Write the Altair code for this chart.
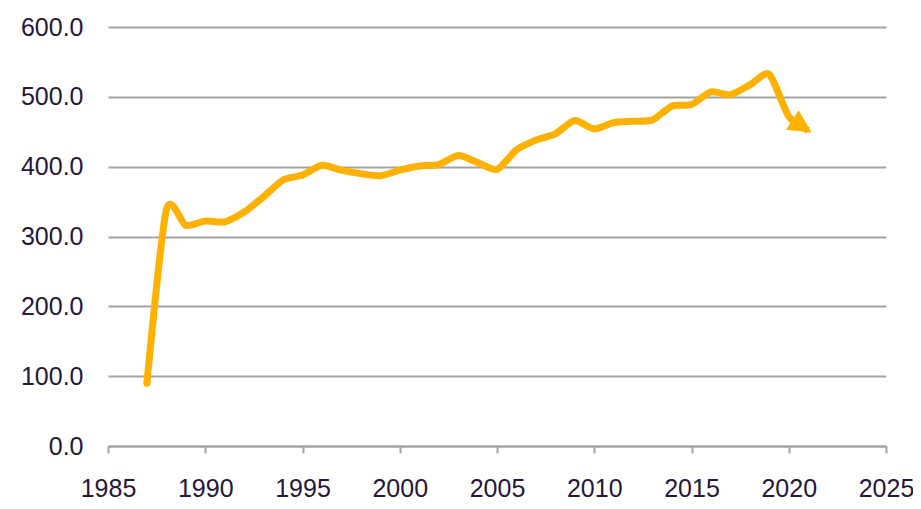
import altair as alt
import pandas as pd

years = [1987, 1988, 1989, 1990, 1991, 1992, 1993, 1994, 1995, 1996,
         1997, 1998, 1999, 2000, 2001, 2002, 2003, 2004, 2005, 2006,
         2007, 2008, 2009, 2010, 2011, 2012, 2013, 2014, 2015, 2016,
         2017, 2018, 2019, 2020, 2021]
values = [90, 338, 316, 322, 321, 335, 357, 381, 388, 402,
          395, 390, 387, 395, 401, 403, 416, 406, 396, 424,
          438, 447, 466, 454, 463, 465, 467, 487, 489, 507,
          503, 517, 532, 472, 452]
x_ticks = [1985, 1990, 1995, 2000, 2005, 2010, 2015, 2020, 2025]
y_ticks = [0, 100, 200, 300, 400, 500, 600]

df = pd.DataFrame({"year": years, "value": values})

LINE = "#FFB100"
TEXT = "#26163A"
GRID = "#A3A3A3"
FONT = "Liberation Sans"

x = alt.X("year:Q",
          scale=alt.Scale(domain=[1985, 2025], nice=False, zero=False),
          axis=alt.Axis(values=x_ticks, format="d", title=None, grid=False,
                        domainColor=GRID, domainWidth=2, tickColor=GRID,
                        tickWidth=2, tickSize=7, labelFontSize=25,
                        labelFont=FONT, labelColor=TEXT, labelPadding=23,
                        labelFlush=False))
y = alt.Y("value:Q",
          scale=alt.Scale(domain=[0, 600], nice=False),
          axis=alt.Axis(values=y_ticks, format=".1f", title=None,
                        grid=True, gridColor=GRID, gridWidth=2,
                        domain=False, ticks=False, labelFontSize=25,
                        labelFont=FONT, labelColor=TEXT, labelPadding=25))

line = alt.Chart(df).mark_line(
    color=LINE, strokeWidth=7, interpolate="cardinal", tension=0.3,
    strokeCap="butt", strokeJoin="round"
).encode(x=x, y=y)

start_cap = alt.Chart(df).transform_filter(
    alt.datum.year == years[0]
).mark_point(
    shape="circle", filled=True, fill=LINE, opacity=1, size=49, strokeWidth=0
).encode(x=x, y=y)

arrow = alt.Chart(df).transform_filter(
    alt.datum.year == years[-1]
).mark_point(
    shape="M0.4,0 L-1.9,-1.15 L-1.9,1.15 Z", filled=True, fill=LINE,
    strokeWidth=0, opacity=1, size=400, angle=33
).encode(x=x, y=y)

chart = alt.layer(line, start_cap, arrow).properties(
    width=778, height=419,
    background="white",
    autosize=alt.AutoSizeParams(type="none"),
    padding={"left": 100, "top": 19, "right": 27, "bottom": 56},
).configure_view(stroke="transparent", strokeWidth=0)

chart.save("out.html", embed_options={"renderer": "svg", "actions": False})
